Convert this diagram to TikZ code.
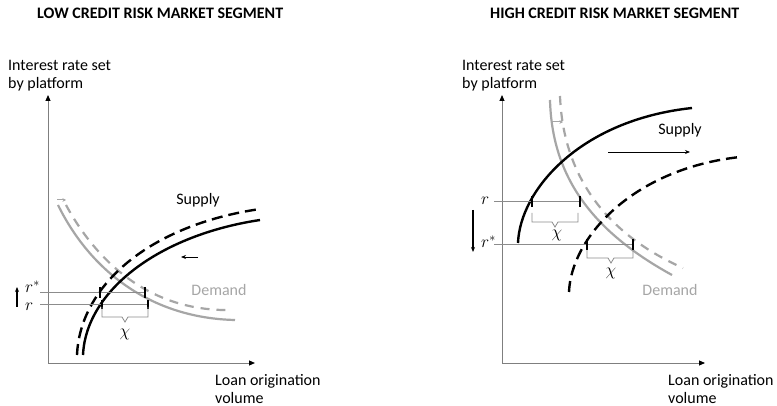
\documentclass[tikz,border=0pt]{standalone}
\usepackage{fontspec}
\setmainfont{Carlito}
\usetikzlibrary{arrows.meta}
\definecolor{bg}{HTML}{FFFFFF}
\definecolor{ink}{HTML}{000000}
\definecolor{dem}{HTML}{A6A6A6}
\definecolor{guide}{HTML}{8C8C8C}
\definecolor{axis}{HTML}{7F7F7F}

\begin{document}
\begin{tikzpicture}[x=1pt,y=-1pt,font=\fontsize{16}{19}\selectfont,
  ttl/.style={font=\fontsize{16}{19}\selectfont\bfseries,anchor=west,inner sep=0pt},
  lbl/.style={anchor=base west,inner sep=0pt},
  mth/.style={anchor=base west,inner sep=0pt,font=\fontsize{18}{20}\selectfont},
  ax/.style={axis,line width=1pt,-{Triangle[length=6pt,width=5pt,color=black]}},
  supp/.style={ink,line width=2.4pt},
  suppd/.style={supp,dash pattern=on 11pt off 6pt},
  demd/.style={dem,line width=2.2pt},
  demdd/.style={demd,dash pattern=on 9pt off 7pt},
  rate/.style={guide,line width=0.8pt},
  tick/.style={ink,line width=1.3pt},
  brk/.style={guide,line width=0.8pt},
  move/.style={-{Stealth[length=5pt,width=4pt]},line width=0.9pt,ink},
  gmove/.style={-{Stealth[length=3.5pt,width=3.5pt]},line width=1pt,dem}]
  \fill[bg] (0,0) rectangle (777,406);
  \useasboundingbox (0,0) rectangle (777,406);

  % ===== left panel: low credit risk =====
  \node[ttl] (ttlow) at (37,13) {LOW CREDIT RISK MARKET SEGMENT};
  \node[lbl] (yl1) at (8,71) {Interest rate set};
  \node[lbl] (yl2) at (8,89) {by platform};
  \node[lbl] (xl1) at (215,385) {Loan origination};
  \node[lbl] (xl2) at (215,403) {volume};
  \coordinate (o1) at (48,363);
  \draw[ax] (o1) -- (48,95);
  \draw[ax] (o1) -- (255,363);

  % curves
  \draw[demd] (58,205) .. controls (90,270) and (150,318) .. (235,320);
  \draw[demdd] (66,205) .. controls (97,262) and (150,312) .. (232,310);
  \draw[supp] (83,355) .. controls (86,290) and (160,235) .. (260,220);
  \draw[suppd] (77,355) .. controls (80,285) and (150,225) .. (260,209);
  \draw[gmove] (57,200) -- (66,200);
  \draw[move] (198,257) -- (181,257);
  \node (sup1) at (198,200) {Supply};
  \node[text=dem] (dem1) at (219,290) {Demand};

  % rates
  \draw[rate] (40,292) -- (145,292);
  \draw[rate] (40,304) -- (148,304);
  \node[mth] (rs1) at (25,293) {$r^*$};
  \node[mth] (r1) at (25,310) {$r$};
  \draw[move,line width=1.3pt] (17,307) -- (17,287);
  \draw[tick] (100,287) -- (100,298) (145,287) -- (145,298);
  \draw[tick] (102,300) -- (102,309) (148,300) -- (148,309);
  \draw[brk] (102,307) -- (102,317) -- (122,317) -- (125,322) -- (128,317) -- (148,317) -- (148,307);
  \node[font=\fontsize{18}{20}\selectfont] (chi1) at (125,334) {$\chi$};

  % ===== right panel: high credit risk =====
  \node[ttl] (tthigh) at (490,13) {HIGH CREDIT RISK MARKET SEGMENT};
  \node[lbl] (yr1) at (462,71) {Interest rate set};
  \node[lbl] (yr2) at (462,89) {by platform};
  \node[lbl] (xr1) at (668,385) {Loan origination};
  \node[lbl] (xr2) at (668,403) {volume};
  \coordinate (o2) at (502,363);
  \draw[ax] (o2) -- (502,95);
  \draw[ax] (o2) -- (705,363);

  % curves
  \draw[demd] (550,100) .. controls (552,175) and (590,230) .. (672,275);
  \draw[demdd] (560,96) .. controls (563,172) and (602,232) .. (683,268);
  \draw[supp] (518,243) .. controls (520,190) and (580,120) .. (692,108);
  \draw[suppd] (569,292) .. controls (571,239) and (631,169) .. (740,157);
  \draw[gmove] (552,122) -- (563,122);
  \draw[move] (608,152) -- (690,152);
  \node (sup2) at (680,130) {Supply};
  \node[text=dem] (dem2) at (670,290) {Demand};

  % rates
  \draw[rate] (494,201) -- (580,201);
  \draw[rate] (494,244) -- (633,244);
  \node[mth] (r2) at (481,205) {$r$};
  \node[mth] (rs2) at (481,248) {$r^*$};
  \draw[move,line width=1.3pt] (473,210) -- (473,252);
  \draw[tick] (532,196) -- (532,207) (580,196) -- (580,207);
  \draw[tick] (587,239) -- (587,250) (633,239) -- (633,250);
  \draw[brk] (532,213) -- (532,222) -- (552,222) -- (555,227) -- (558,222) -- (578,222) -- (578,213);
  \node[font=\fontsize{18}{20}\selectfont] (chi2) at (557,235) {$\chi$};
  \draw[brk] (587,250) -- (587,258) -- (608,258) -- (611,263) -- (614,258) -- (633,258) -- (633,250);
  \node[font=\fontsize{18}{20}\selectfont] (chi3) at (611,273) {$\chi$};
\end{tikzpicture}
\end{document}
